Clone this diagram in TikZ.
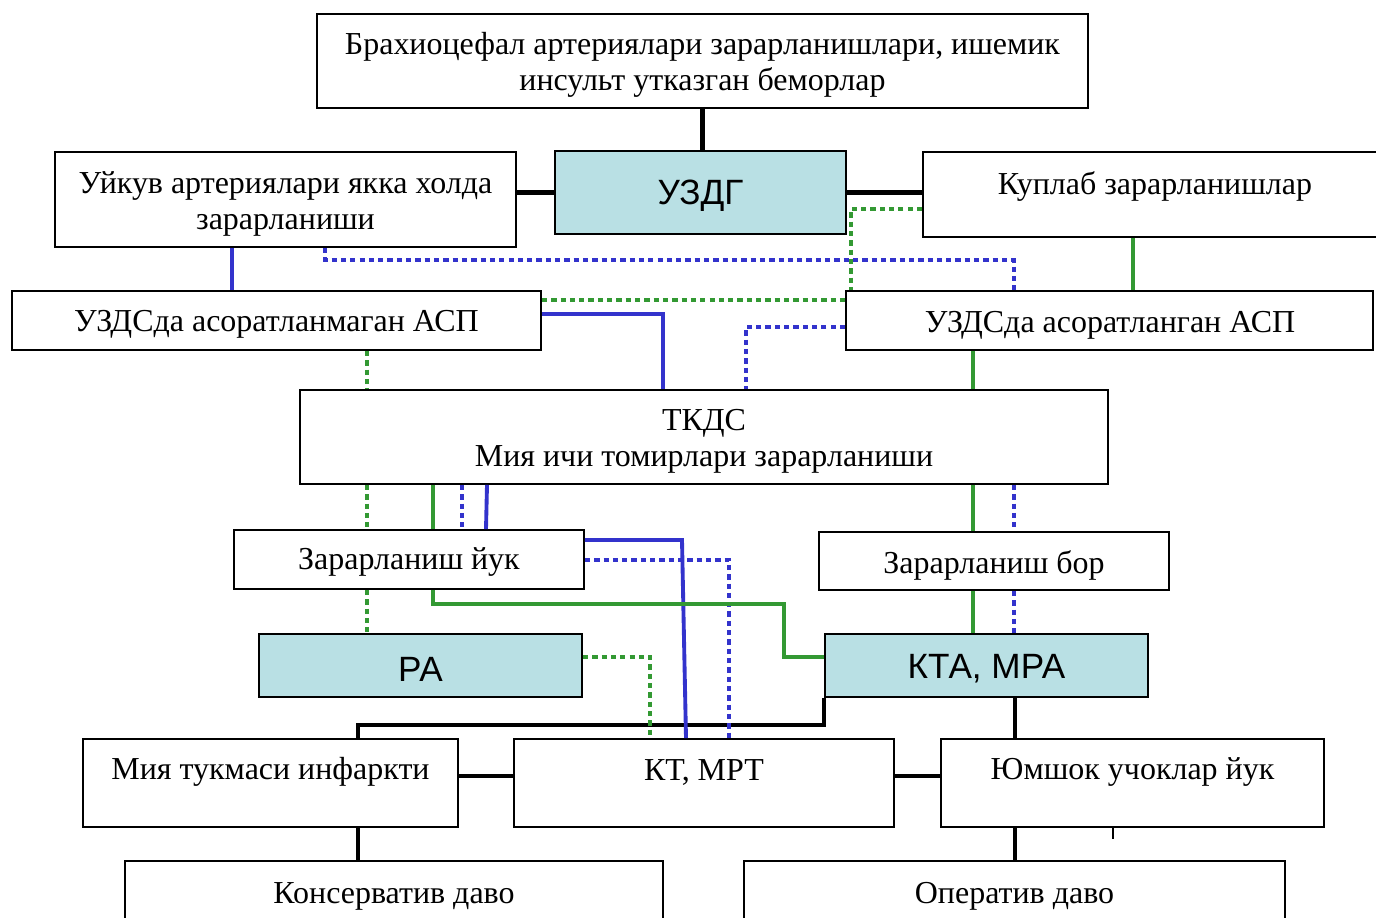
\documentclass[tikz,border=0pt]{standalone}
\usepackage{fontspec}
\setmainfont{Liberation Serif}
\setsansfont{Liberation Sans}
\definecolor{tealfill}{RGB}{185,224,228}
\definecolor{lineblue}{RGB}{51,51,204}
\definecolor{linegreen}{RGB}{51,153,51}
\tikzset{
  box/.style={shape=rectangle, draw, line width=1.1pt, fill=white, inner sep=0pt},
  tealbox/.style={box, fill=tealfill},
  txt/.style={anchor=center, align=center, inner sep=0pt, font=\fontsize{18.2}{20.5}\selectfont},
  sanstxt/.style={anchor=center, inner sep=0pt, font=\sffamily\fontsize{20}{24}\selectfont},
  blk/.style={line width=2.5pt},
  bluesolid/.style={draw=lineblue, line width=2.2pt},
  bluedot/.style={draw=lineblue, line width=2.8pt, dash pattern=on 3pt off 2.3pt},
  greensolid/.style={draw=linegreen, line width=2.2pt},
  greendot/.style={draw=linegreen, line width=2.8pt, dash pattern=on 3pt off 2.3pt}
}

\begin{document}
\begin{tikzpicture}[x=0.02cm, y=-0.02cm]	% boxes, labels and connectors
			\useasboundingbox (0,0) rectangle (1376,917);
			\node[box, minimum width=15.42cm, minimum height=1.88cm] (top) at (702.5, 61){};
			\node[txt] (topT) at (702.5, 65){Брахиоцефал артериялари зарарланишлари, ишемик\\инсульт утказган беморлар};
			\node[box, minimum width=9.22cm, minimum height=1.90cm] (uykuv) at (285.5, 199.5){};
			\node[txt] (uykuvT) at (285.5, 204){Уйкув артериялари якка холда\\зарарланиши};
			\node[tealbox, minimum width=5.82cm, minimum height=1.66cm] (uzdg) at (700.5, 192.5){};
			\node[sanstxt] (uzdgT) at (700.5, 196){УЗДГ};
			\node[box, minimum width=9.14cm, minimum height=1.70cm] (kuplab) at (1151.5, 194.5){};
			\node[txt] (kuplabT) at (1155, 186){Куплаб зарарланишлар};
			\node[box, minimum width=10.58cm, minimum height=1.18cm] (mag) at (276.5, 320.5){};
			\node[txt] (magT) at (276.5, 324){УЗДСда асоратланмаган АСП};
			\node[box, minimum width=10.54cm, minimum height=1.18cm] (glangan) at (1109.5, 320.5){};
			\node[txt] (glanganT) at (1110, 325){УЗДСда асоратланган АСП};
			\node[box, minimum width=16.16cm, minimum height=1.88cm] (tkds) at (704, 437){};
			\node[txt] (tkdsT) at (704, 441){ТКДС\\Мия ичи томирлари зарарланиши};
			\node[box, minimum width=7.0cm, minimum height=1.18cm] (yuk) at (409, 559.5){};
			\node[txt] (yukT) at (409, 562){Зарарланиш йук};
			\node[box, minimum width=7.0cm, minimum height=1.16cm] (bor) at (994, 561){};
			\node[txt] (borT) at (994, 565){Зарарланиш бор};
			\node[tealbox, minimum width=6.46cm, minimum height=1.26cm] (pa) at (420.5, 665.5){};
			\node[sanstxt] (paT) at (420.5, 669){РА};
			\node[tealbox, minimum width=6.46cm, minimum height=1.26cm] (kta) at (986.5, 665.5){};
			\node[sanstxt] (ktaT) at (986.5, 669){КТА, МРА};
			\node[box, minimum width=7.5cm, minimum height=1.76cm] (miya) at (270.5, 783){};
			\node[txt] (miyaT) at (270.5, 772){Мия тукмаси инфаркти};
			\node[box, minimum width=7.6cm, minimum height=1.76cm] (kt) at (704, 783){};
			\node[txt] (ktT) at (704, 772){КТ, МРТ};
			\node[box, minimum width=7.66cm, minimum height=1.76cm] (yumshok) at (1132.5, 783){};
			\node[txt] (yumshokT) at (1132.5, 772){Юмшок учоклар йук};
			\node[box, minimum width=10.76cm, minimum height=1.28cm] (kons) at (394, 893){};
			\node[txt] (konsT) at (394, 896){Консерватив даво};
			\node[box, minimum width=10.82cm, minimum height=1.28cm] (oper) at (1014.5, 893){};
			\node[txt] (operT) at (1014.5, 896){Оператив даво};
			% black
			\draw[blk] (top.south) -- (top.south |- uzdg.north);
			\draw[blk] (uzdg.west -| uykuv.east) -- (uzdg.west);
			\draw[blk] (uzdg.east) -- (uzdg.east -| kuplab.west);
			\draw[blk] (kta.south west) -- ++(0,27) -| (358,0 |- miya.north);
			\draw[blk] (1015,0 |- kta.south) -- (1015,0 |- yumshok.north);
			\draw[blk] (miya.east |- 0,776) -- (kt.west |- 0,776);
			\draw[blk] (kt.east |- 0,776) -- (yumshok.west |- 0,776);
			\draw[blk] (358,0 |- miya.south) -- (358,0 |- kons.north);
			\draw[blk] (1015,0 |- yumshok.south) -- (1015,0 |- oper.north);
			\draw[line width=0.6pt] (1113,0 |- yumshok.south) -- ++(0,11);
			% blue
			\draw[bluesolid] (232,0 |- uykuv.south) -- (232,0 |- mag.north);
			\draw[bluesolid] (mag.east |- 0,314) -| (663,0 |- tkds.north);
			\draw[bluesolid] (487,0 |- tkds.south) -- (486,0 |- yuk.north);
			\draw[bluesolid] (yuk.east |- 0,540) -- (682,540) -- (686,0 |- kt.north);
			\draw[bluedot] (325,0 |- uykuv.south) -- (325,260) -| (1014,0 |- glangan.north);
			\draw[bluedot] (glangan.west |- 0,327) -| (746,0 |- tkds.north);
			\draw[bluedot] (462,0 |- tkds.south) -- (462,0 |- yuk.north);
			\draw[bluedot] (yuk.east |- 0,560) -| (729,0 |- kt.north);
			\draw[bluedot] (1014,0 |- tkds.south) -- (1014,0 |- bor.north);
			\draw[bluedot] (1014,0 |- bor.south) -- (1014,0 |- kta.north);
			% green
			\draw[greensolid] (1133,0 |- kuplab.south) -- (1133,0 |- glangan.north);
			\draw[greensolid] (973,0 |- glangan.south) -- (973,0 |- tkds.north);
			\draw[greensolid] (973,0 |- tkds.south) -- (973,0 |- bor.north);
			\draw[greensolid] (973,0 |- bor.south) -- (973,0 |- kta.north);
			\draw[greensolid] (433,0 |- tkds.south) -- (433,0 |- yuk.north);
			\draw[greensolid] (433,0 |- yuk.south) |- (784,604) |- (kta.west |- 0,657);
			\draw[greendot] (kuplab.west |- 0,209) -| (851,0 |- glangan.north);
			\draw[greendot] (mag.east |- 0,300) -- (glangan.west |- 0,300);
			\draw[greendot] (367,0 |- mag.south) -- (367,0 |- tkds.north);
			\draw[greendot] (367,0 |- tkds.south) -- (367,0 |- yuk.north);
			\draw[greendot] (367,0 |- yuk.south) -- (367,0 |- pa.north);
			\draw[greendot] (pa.east |- 0,657) -| (650,0 |- kt.north);
		\end{tikzpicture}
\end{document}
